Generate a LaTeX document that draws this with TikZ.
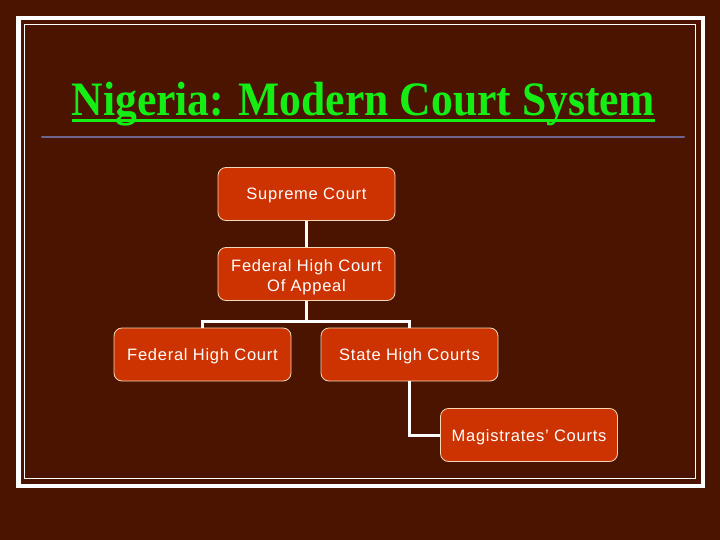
\documentclass[tikz,border=0pt]{standalone}
\usepackage{fontspec}
\newfontfamily\boxfont{Liberation Sans}[LetterSpace=4.5]
\newfontfamily\titlefont{Liberation Serif}
\usetikzlibrary{positioning,calc}
\definecolor{slidebg}{HTML}{4A1400}
\definecolor{courtfill}{HTML}{CC3300}
\definecolor{courtline}{HTML}{F2D9B8}
\definecolor{titlegreen}{HTML}{14EE14}
\definecolor{rulepurple}{HTML}{6E6490}

\begin{document}
\begin{tikzpicture}[x=1pt, y=-1pt, line cap=round]
  % stijlen
  \tikzset{
    court/.style={draw=courtline, line width=0.8pt, fill=courtfill, rounded corners=8pt,
      minimum width=177pt, minimum height=53pt, align=center, text=white,
      font=\boxfont\fontsize{16.5}{20}\selectfont},
    onerow/.style={court, text height=12pt, text depth=0pt},
    conn/.style={draw=white, line width=3pt, line cap=butt}
  }
  % achtergrond
  \fill[slidebg] (0,0) rectangle (720,540);
  \useasboundingbox (0,0) rectangle (720,540);
  % kader
  \draw[white, line width=4.5pt] (18.5,18) rectangle (703,486);
  \draw[white, line width=0.9pt] (24.5,24.5) rectangle (695.5,478.5);
  % titel
  \node[inner sep=0, text=titlegreen, font=\titlefont\bfseries\fontsize{48}{54}\selectfont,
    anchor=base, xscale=0.908] (title) at (363.5,116) {Nigeria: Modern Court System};
  \draw[titlegreen, line width=3pt, line cap=butt] ([yshift=-5pt]title.base west) -- ([yshift=-5pt]title.base east);
  \draw[rulepurple, line width=2pt] (42,137) -- (684,137);
  % rechtbanken
  \node[onerow] (supreme) at (306.5,194) {Supreme Court};
  \node[court] (appeal) at (306.5,274) {\raisebox{-3pt}[\height][\depth]{%
    \begin{tabular}{@{}c@{}}Federal High Court\\Of Appeal\end{tabular}}};
  \node[onerow] (fedhigh) at (202.5,354.5) {Federal High Court};
  \node[onerow] (statehigh) at (409.5,354.5) {State High Courts};
  \node[onerow] (magistrates) at (529,435) {Magistrates’ Courts};
  % verbindingen
  \draw[conn] (supreme) -- (appeal);
  \draw[conn] (appeal.south) -- ++(0,21) coordinate (split);
  \draw[conn] (split) -| (fedhigh.north);
  \draw[conn] (split) -| (statehigh.north);
  \draw[conn] (statehigh.south) |- (magistrates.west);
\end{tikzpicture}
\end{document}
